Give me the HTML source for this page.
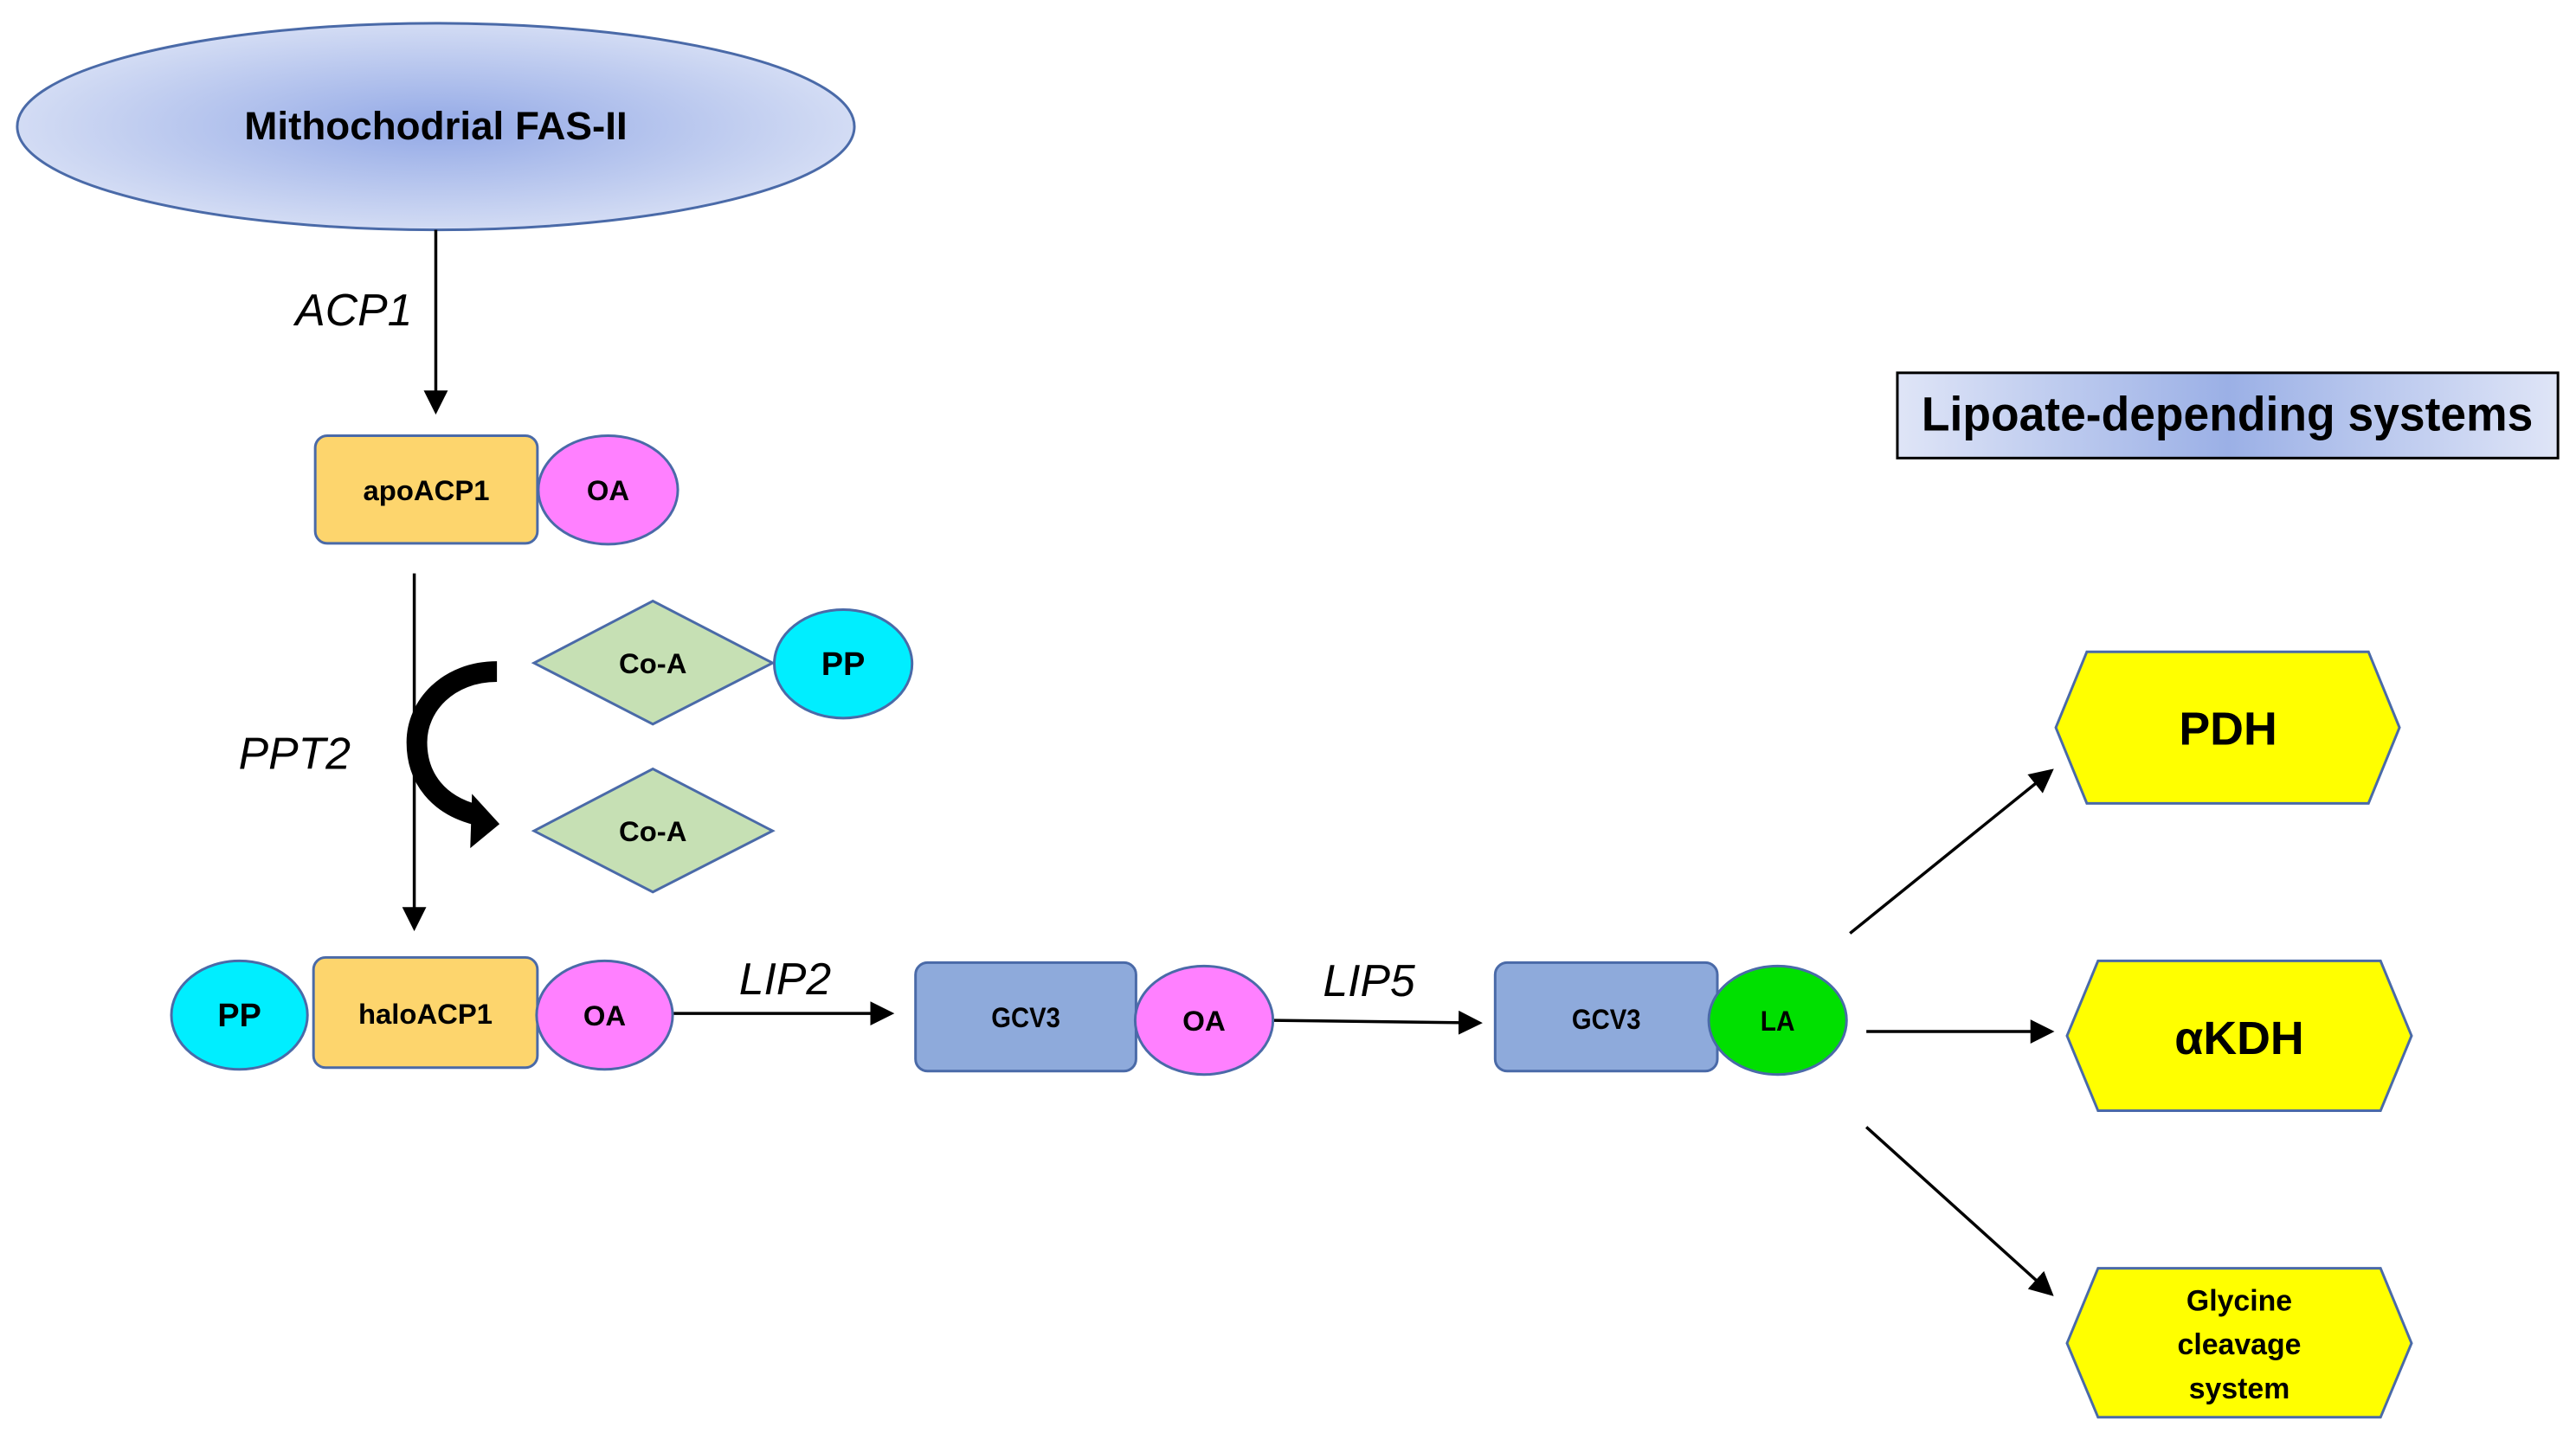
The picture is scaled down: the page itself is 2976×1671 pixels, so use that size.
<!DOCTYPE html>
<html><head><meta charset="utf-8"><style>
html,body{margin:0;padding:0;background:#fff}
svg{display:block}
text{font-family:"Liberation Sans",sans-serif}
</style></head><body>
<svg width="2976" height="1671" viewBox="0 0 2976 1671" xmlns="http://www.w3.org/2000/svg">
<defs>
<radialGradient id="g1" cx="50%" cy="50%" r="50%">
<stop offset="0" stop-color="#93a9e6"/><stop offset="1" stop-color="#d3dcf4"/></radialGradient>
<linearGradient id="g2" x1="0" x2="1" y1="0" y2="0">
<stop offset="0" stop-color="#dfe5f7"/><stop offset="0.5" stop-color="#9bb0e6"/><stop offset="1" stop-color="#dfe5f7"/></linearGradient>
<marker id="ah" markerWidth="8" markerHeight="8" refX="7" refY="4" orient="auto" markerUnits="strokeWidth">
<path d="M0,0 L8,4 L0,8 Z" fill="#000"/></marker>
</defs>
<g transform="scale(0.995)">
<g stroke="#4a6aa8" stroke-width="3">
<ellipse cx="506" cy="147" rx="486" ry="120" fill="url(#g1)"/>
</g>
<text x="506" y="162" font-size="46" font-weight="bold" text-anchor="middle">Mithochodrial FAS-II</text>

<g stroke="#000" stroke-width="3.5" fill="none">
<line x1="506" y1="267" x2="506" y2="478" marker-end="url(#ah)"/>
<line x1="481" y1="666" x2="481" y2="1078" marker-end="url(#ah)"/>
<line x1="782" y1="1177" x2="1035" y2="1177" marker-end="url(#ah)"/>
<line x1="1478" y1="1185" x2="1718" y2="1188" marker-end="url(#ah)"/>
<line x1="2148" y1="1084" x2="2382" y2="895" marker-end="url(#ah)"/>
<line x1="2167" y1="1198" x2="2382" y2="1198" marker-end="url(#ah)"/>
<line x1="2167" y1="1309" x2="2382" y2="1503" marker-end="url(#ah)"/>
</g>
<text x="343" y="378" font-size="52" font-style="italic">ACP1</text>
<text x="277" y="893" font-size="52" font-style="italic">PPT2</text>
<text x="858" y="1155" font-size="52" font-style="italic">LIP2</text>
<text x="1536" y="1157" font-size="52" font-style="italic">LIP5</text>

<path d="M577,780 C520,780 484,820 484,862 C484,905 510,935 552,946" stroke="#000" stroke-width="24" fill="none"/>
<polygon points="548,922 580,957 546,985" fill="#000"/>

<g stroke="#4a6aa8" stroke-width="3">
<rect x="366" y="506" width="258" height="125" rx="14" fill="#fdd56d"/>
<ellipse cx="706" cy="569" rx="81" ry="63" fill="#ff80ff"/>
<polygon points="620,770 758,698 897,770 758,841" fill="#c6e0b4"/>
<ellipse cx="979" cy="771" rx="80" ry="63" fill="#00eeff"/>
<polygon points="620,965 758,893 897,965 758,1036" fill="#c6e0b4"/>
<ellipse cx="278" cy="1179" rx="79" ry="63" fill="#00eeff"/>
<rect x="364" y="1112" width="260" height="128" rx="14" fill="#fdd56d"/>
<ellipse cx="702" cy="1179" rx="79" ry="63" fill="#ff80ff"/>
<rect x="1063" y="1118" width="256" height="126" rx="14" fill="#8eaadb"/>
<ellipse cx="1398" cy="1185" rx="80" ry="63" fill="#ff80ff"/>
<rect x="1736" y="1118" width="258" height="126" rx="14" fill="#8eaadb"/>
<ellipse cx="2064" cy="1185" rx="80" ry="63" fill="#00e000"/>
<polygon points="2387,845 2423,757 2750,757 2786,845 2750,933 2423,933" fill="#ffff00"/>
<polygon points="2400,1203 2436,1116 2764,1116 2800,1203 2764,1290 2436,1290" fill="#ffff00"/>
<polygon points="2400,1560 2436,1473 2764,1473 2800,1560 2764,1646 2436,1646" fill="#ffff00"/>
</g>
<rect x="2203" y="433" width="767" height="99" fill="url(#g2)" stroke="#000" stroke-width="3"/>
<text x="2586" y="500" font-size="56" font-weight="bold" text-anchor="middle" textLength="710" lengthAdjust="spacingAndGlyphs">Lipoate-depending systems</text>

<g font-weight="bold" text-anchor="middle" font-size="33">
<text x="495" y="581">apoACP1</text>
<text x="706" y="581">OA</text>
<text x="758" y="782">Co-A</text>
<text x="979" y="784" font-size="38">PP</text>
<text x="758" y="977">Co-A</text>
<text x="278" y="1192" font-size="38">PP</text>
<text x="494" y="1189">haloACP1</text>
<text x="702" y="1191">OA</text>
<text x="1191" y="1193" textLength="80" lengthAdjust="spacingAndGlyphs">GCV3</text>
<text x="1398" y="1197" textLength="50" lengthAdjust="spacingAndGlyphs">OA</text>
<text x="1865" y="1195" textLength="80" lengthAdjust="spacingAndGlyphs">GCV3</text>
<text x="2064" y="1197" textLength="40" lengthAdjust="spacingAndGlyphs">LA</text>
<text x="2587" y="865" font-size="54">PDH</text>
<text x="2600" y="1224" font-size="54">αKDH</text>
<text x="2600" y="1522" font-size="34">Glycine</text>
<text x="2600" y="1573" font-size="34">cleavage</text>
<text x="2600" y="1624" font-size="34">system</text>
</g>
</g>
</svg>
</body></html>
